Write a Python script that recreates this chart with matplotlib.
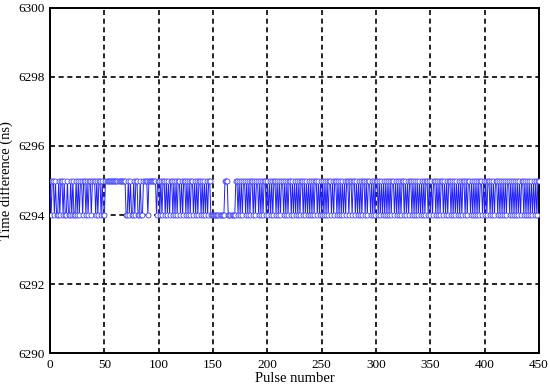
import matplotlib
matplotlib.use("Agg")
from matplotlib import pyplot as plt
import numpy as np

# each char is one pulse: '4' -> 6294 ns, '5' -> 6295 ns
pulses_0_99 = ("54554544545545" "44544545445454" "554554545545554545545" "4"
               "4" "5555555555555555555" "4454544545544544" "555545555555" "45")
pulses_100_199 = ("5454554545" "4554545455" "4545545454" "5545454554" "545454554"
                  "444444444444" "555" "4444444"
                  "5545454554" "5454554545" "545454554")
pulses_200_450 = ("5454545545" "4545545454" "5545454545" "4554545454" "5454554545"
                  "4545454554" "5455454545" "4545545545" "5454545455" "4545545454"
                  "5545454545" "4545455454" "5454554545" "4554545454" "5454545545"
                  "4545545454" "5545454554" "5454545454" "5545455454" "5454545545"
                  "4545545454" "5545454545" "4554545454" "5454554545" "4545454545"
                  "5")

codes = pulses_0_99 + pulses_100_199 + pulses_200_450
time_diff = np.array([6290 + int(c) for c in codes])
pulse = np.arange(len(time_diff))

plt.rcParams['font.family'] = ['Liberation Serif', 'DejaVu Serif']

fig = plt.figure(figsize=(5.5, 3.87), dpi=100)
ax = fig.add_axes([0.091, 0.087, 0.889, 0.893])

ax.plot(pulse, time_diff, color='#1f1fff', lw=0.7, marker='o', ms=3.6,
        mfc='white', mec='#3d3dff', mew=0.6, zorder=3)

ax.set_xlim(0, 450)
ax.set_ylim(6290, 6300)
ax.set_xticks(np.arange(0, 451, 50))
ax.set_yticks(np.arange(6290, 6301, 2))
ax.grid(True, color='black', linestyle=(0, (3, 2.2)), lw=1.2, zorder=1)
ax.tick_params(length=0, labelsize=9.5, pad=4)
for s in ax.spines.values():
    s.set_linewidth(1.4)

ax.set_xlabel("Pulse number", fontsize=10.5, labelpad=1)
ax.set_ylabel("Time difference (ns)", fontsize=10.5, labelpad=4)

fig.savefig("out.png", dpi=100)
